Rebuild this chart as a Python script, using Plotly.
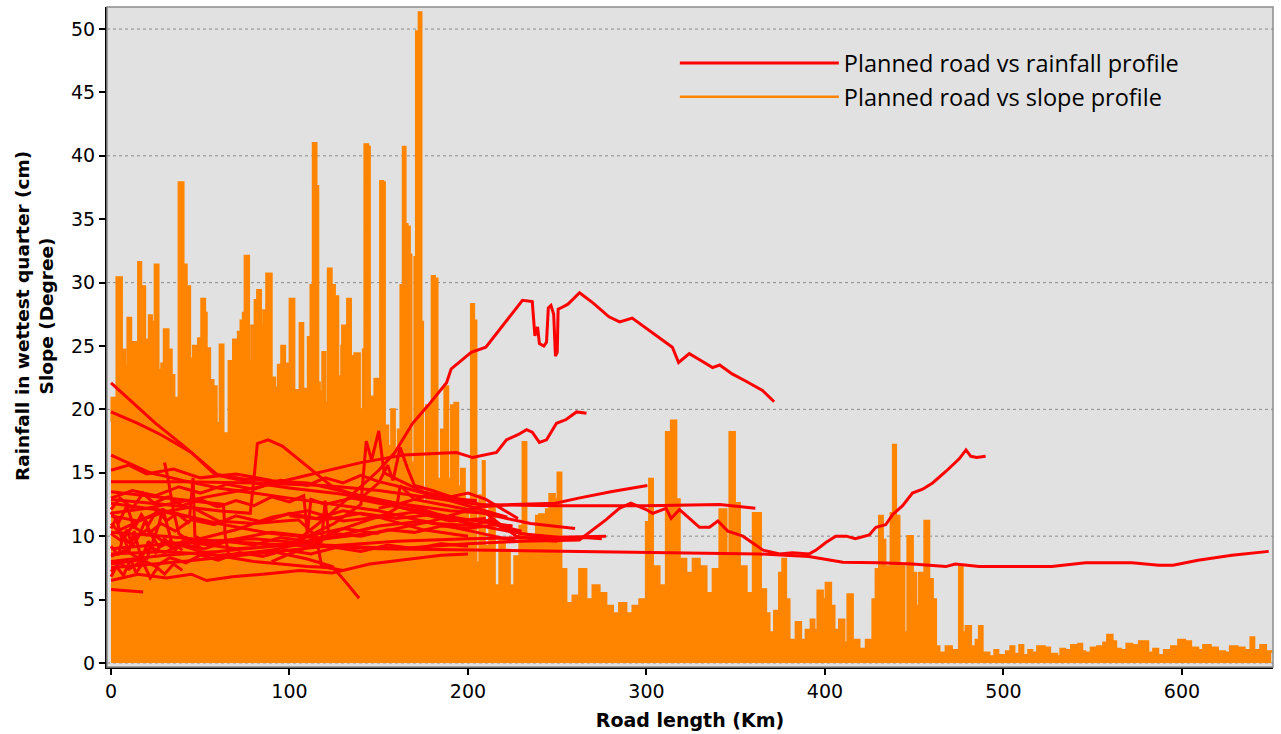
import plotly.graph_objects as go

# ---------------- slope profile (km, degree) ----------------
slope_km = [0, 0.4, 3.2, 6, 7.8, 9.3, 11.2, 14.4, 15.3, 16.8, 19, 20.5, 21.3, 22.8, 24.6, 26.5, 28.3, 29.7, 32.1, 33.9,
            35.4, 36.7, 38, 40.5, 42.3, 44.2, 46, 47.9, 48.9, 50.7, 52.6, 53.5, 55.4, 57.3, 59.1, 61, 62.9, 64.7, 66,
            68.5, 71.2, 72.7, 74, 75, 77.2, 78.7, 80.6, 82, 83.9, 85.4, 87.1, 89.9, 91.8, 93.6, 95.5, 97.4, 98.9,
            100.2, 102.6, 104.5, 105.8, 107.6,
            108.6, 110.4, 111.9, 113.2, 115, 116, 116.9, 118.5, 120, 121.6, 123.5, 125.3, 127.2, 129.1, 129.6, 131.3,
            132.4, 134.3, 136.5, 139.3, 141.2, 142.1, 144, 144.9, 147.7, 150.9, 152.4, 153.3, 155.2, 157.1, 158.9,
            160.8, 162.3, 163.6, 164.9, 166, 167.3, 168.2, 170.1, 171, 172.5, 173.8, 174.7, 176.6, 179.8, 181.3,
            182.8, 185, 186.9, 188.8, 190.6, 192.5, 194.4, 196.2, 198.1, 200, 201.8, 203.3, 204.6,
            206.5, 208.4, 209.3, 212.1, 214.9, 217.7, 220.5, 223.3, 226.1, 228.9, 230.7, 232.6, 234.4, 238.2, 240,
            243.8, 245.7, 248.5, 250.3, 252.2, 255, 258.7, 262.4, 266.2, 269.9, 273.6, 277.4, 281.1, 284.8, 288.6,
            292.3, 296.1, 299.8, 301.6, 303.5, 307.2, 311, 313.8, 316.6, 318.5, 322.2, 326, 329.7, 333.5, 337.2,
            341, 344.7, 346.6, 349.4, 352.2, 356, 359.7,
            364, 366.9, 368.8, 371.6, 374.4, 376.2, 378.1, 380, 383.7, 386.5, 389.3, 392.1, 394, 395.9, 398.7,
            400.5, 403.3, 405.2, 408, 410.8, 412.7, 415.5, 419.2, 423, 426.7, 428.5, 430.4, 432.3, 433.7, 435,
            436.9, 438.2, 439.7, 441.6, 444.4, 446.3, 449.1, 451, 452.8, 454.7, 455.8, 458.3, 460.3, 462.1, 464,
            467.7, 471, 475.2, 477, 478.9, 481.7, 484.5, 486.4, 488.2,
            492, 495, 497, 501.5, 504, 506, 509, 511, 514, 516, 519, 523, 526, 530, 532, 534.5, 538, 542, 544,
            545.7, 549, 552.6, 556, 558.2, 561, 563, 565.7, 569, 572, 576, 581, 584, 586.6, 590, 594, 598, 601.6,
            605, 609, 612, 616, 620, 624, 627, 631, 635, 638.5, 640.4, 644, 647, 650]
slope_deg = [19, 20.9, 30.4, 24.7, 23.4, 27.2, 25.3, 23.2, 31.6, 29.7, 25.5, 23.2, 27.4, 26.9, 31.4, 23.1, 23.6, 26.3,
             24.7, 22.7, 20.9, 20.1, 37.9, 31.4, 29.7, 24, 25, 20.1, 25.6, 28.7, 27.6, 24.8, 22.3, 21.8, 18.9, 25.1,
             18.1, 15.7, 23.8, 25.5, 26.1, 27, 27.6, 32.1, 23.8, 26.6, 28.6, 29.4, 26.6, 27.8, 30.7, 22.5, 21.7, 23.5,
             25, 23.6, 20.8, 28.7, 21.5, 17.4, 26.8, 19.3,
             21.6, 25.7, 29.8, 41, 37.6, 22.1, 21.4, 24.5, 20.5, 31.1, 29.8, 28.9, 22.6, 25, 26.6, 25, 28.7, 24.2,
             24.4, 20, 24.7, 40.9, 40.7, 21, 22.4, 38, 37.9, 18.7, 17.1, 20, 16.6, 18.4, 29.8, 40.7, 34.6, 34.4,
             32.2, 15.8, 32, 49.8, 51.3, 26.9, 12.6, 20.3, 30.5, 30.3, 14.5, 18.4, 21.8, 14.5, 20.3, 20.5, 13.9,
             15.3, 12.6, 10.3, 28.3, 27, 7.9,
             13.2, 15.9, 9.2, 12.2, 6.1, 9.7, 8.9, 6.1, 8.4, 10.8, 17.4, 9.7, 9.5, 11.6, 11.7, 12.1, 13.3, 12.9, 15,
             7.4, 4.7, 5.3, 7.4, 5, 6.1, 5.5, 4.5, 3.9, 4.7, 3.9, 4.5, 5, 11.1, 14.5, 7.6, 6.1, 18.2, 19.1, 12.9, 8.2,
             7.1, 8.2, 7.6, 5.5, 7.4, 12.1, 8.4, 18.2, 12.6, 7.6, 5.5, 11.8,
             5.8, 3.9, 2.4, 4.1, 7.1, 8.2, 5, 1.8, 3.2, 1.8, 2.6, 3.4, 2.6, 5.7, 5, 6.3, 4.5, 2.6, 3.4, 1.6, 5.4,
             1.8, 1.1, 1.8, 5, 7.4, 11.6, 9.7, 7.1, 7.6, 11.8, 17.2, 11.6, 7.6, 2.4, 10, 7.1, 4.5, 7.1, 2.4, 11.2,
             6.6, 5, 1.3, 0.8, 1.3, 1.0, 7.6, 2.4, 2.9, 1.3, 1.8, 2.9, 0.8,
             0.5, 1.0, 0.6, 0.9, 1.3, 0.7, 1.4, 0.6, 1.0, 0.8, 1.3, 1.2, 0.7, 0.5, 1.1, 1.0, 1.4, 1.5, 0.9, 0.8, 1.2,
             1.3, 1.6, 2.2, 1.7, 1.1, 1.0, 1.5, 1.4, 1.7, 0.8, 1.1, 0.6, 1.0, 1.3, 1.8, 1.7, 1.2, 1.0, 1.4, 1.2, 0.9,
             0.8, 1.3, 1.2, 1.0, 2.0, 1.0, 1.4, 0.9, 1.0]

# ---------------- rainfall profiles (km, cm) ----------------
road01_km = [0, 30, 60, 90, 103, 121.6, 140, 150, 159, 169, 177.6, 188, 190.6, 201.8, 210, 216, 223, 230.5, 236, 237.5,
             239, 240, 242.5, 244, 245, 246.5, 248, 249, 250, 250.5, 252, 256, 262.5, 270, 279, 285, 292, 300, 307,
             314.5, 318, 324, 330, 337, 341, 348, 356, 365, 371.5]
road01_cm = [8.0, 8.5, 8.8, 9.2, 9.5, 11.6, 13.9, 15.2, 16.6, 18.9, 20.3, 22.1, 23.2, 24.5, 24.9, 26.0, 27.3, 28.6,
             28.5, 25.8, 26.5, 25.2, 25.0, 25.3, 28.0, 28.2, 27.5, 24.2, 24.5, 27.9, 28.0, 28.3, 29.2, 28.4, 27.3,
             26.9, 27.2, 26.4, 25.7, 24.9, 23.7, 24.4, 23.9, 23.3, 23.5, 22.8, 22.2, 21.5, 20.6]
road02_km = [0, 20, 50, 80, 110, 140, 164, 180, 193.6, 202.6, 210, 216, 221.6, 228, 232.8, 236, 240, 244, 249.6,
             255, 260.8, 266.4]
road02_cm = [11.8, 12.2, 13.0, 13.8, 14.8, 15.8, 16.4, 16.5, 16.6, 16.2, 16.4, 16.6, 17.6, 18.0, 18.4, 18.2, 17.4,
             17.6, 18.9, 19.2, 19.8, 19.7]
road03_km = [0, 30, 60, 90, 120, 150, 180, 206, 225, 249, 262, 280, 300.5]
road03_cm = [12.6, 12.0, 11.0, 10.2, 9.8, 10.3, 11.2, 12.3, 12.5, 12.6, 13.0, 13.5, 14.0]
road04_km = [0, 40, 80, 120, 150, 180, 206, 250, 300, 341, 361]
road04_cm = [14.3, 14.3, 14.2, 14.0, 13.6, 13.0, 12.5, 12.4, 12.4, 12.5, 12.2]
road05_km = [0, 40, 80, 120, 160, 200, 230, 262.4, 277.4, 284.8, 291.3, 299.8, 303.5, 311, 313.8, 318.5, 329.7,
             335.3, 340, 345.6, 354, 365.3, 374.6, 381.8, 391.2, 395, 400.5, 406, 412, 417, 424.8, 428.5, 434,
             437.9, 443.5, 449, 454.7, 460.3, 467.7, 475.2, 479, 481.7, 485, 490]
road05_cm = [9.0, 9.5, 9.8, 9.3, 9.0, 9.4, 9.6, 9.7, 11.3, 12.2, 12.6, 12.1, 11.8, 12.2, 11.4, 12.1, 10.7, 10.7,
             11.2, 10.4, 10.0, 8.9, 8.6, 8.7, 8.6, 8.9, 9.5, 10.0, 10.0, 9.8, 10.1, 10.7, 10.9, 11.7, 12.4, 13.4,
             13.7, 14.2, 15.1, 16.1, 16.8, 16.3, 16.2, 16.3]
road06_km = [0, 30, 60, 100, 150, 200, 254.5, 300, 363, 391, 400.5, 410, 430.4, 449, 467.7, 473, 486.4, 503, 527,
             546, 572, 587, 595, 609, 628, 648.6]
road06_cm = [10.3, 10.0, 9.6, 9.3, 9.0, 8.9, 8.8, 8.7, 8.6, 8.4, 8.2, 7.95, 7.9, 7.8, 7.6, 7.8, 7.6, 7.6, 7.6, 7.9,
             7.9, 7.7, 7.7, 8.1, 8.5, 8.8]
road07_km = [0, 40, 80, 120, 160, 200, 243.8, 277.4]
road07_cm = [7.5, 8.0, 8.6, 9.2, 9.6, 9.8, 9.9, 10.0]
road08_km = [0, 10, 25, 40, 60, 80, 100, 130, 160, 190, 210, 227, 240, 250]
road08_cm = [22.1, 20.8, 18.9, 17.2, 14.8, 14.2, 13.8, 13.3, 12.6, 12.0, 11.8, 10.0, 9.7, 9.6]
road09_km = [0, 15, 28, 45, 58, 75, 110, 140, 170, 200, 230, 252]
road09_cm = [19.8, 18.9, 18.0, 16.6, 14.9, 14.5, 14.2, 13.2, 12.3, 11.0, 10.2, 9.9]
road10_km = [0, 22, 40, 60, 100, 150, 180, 208]
road10_cm = [16.4, 15.0, 14.4, 13.8, 13.0, 12.0, 11.0, 10.8]
road11_km = [0, 30, 60, 78, 80, 82, 88, 96, 110, 124, 143, 170, 200, 225]
road11_cm = [12.9, 12.5, 12.0, 11.8, 14.4, 17.3, 17.6, 17.1, 15.5, 13.9, 12.9, 12.0, 11.3, 10.8]
road12_km = [0, 30, 60, 90, 110, 124, 132, 139]
road12_cm = [8.6, 8.8, 8.5, 8.8, 8.2, 7.6, 6.3, 5.1]
road13_km = [0, 10, 18]
road13_cm = [5.8, 5.7, 5.6]
road14_km = [0, 15, 31, 45, 53.5, 68, 85, 106, 124, 145, 162, 185, 200]
road14_cm = [6.5, 7.0, 6.7, 7.0, 6.5, 6.8, 7.0, 7.3, 7.1, 7.8, 8.1, 8.5, 8.6]
road15_km = [0, 10, 20, 35, 50, 70, 90, 110, 130, 150, 175, 200]
road15_cm = [11.0, 9.5, 10.5, 9.0, 9.8, 10.5, 11.5, 12.0, 11.2, 11.5, 10.5, 10.0]
road16_km = [0, 20, 27, 29, 34, 55, 80, 110, 125]
road16_cm = [7.8, 8.2, 11.0, 12.2, 9.5, 8.6, 8.0, 7.6, 7.5]
road17_km = [30, 32, 35, 38, 45, 70, 100, 125, 140, 143, 146, 150, 153, 160, 175, 190, 205]
road17_cm = [15.8, 14.5, 12.0, 10.2, 9.5, 9.0, 9.3, 11.0, 12.5, 17.5, 16.0, 18.3, 15.0, 14.5, 13.5, 13.0, 12.8]
road18_km = [0, 20, 45, 63, 64, 66, 90, 120, 150, 175, 205, 227]
road18_cm = [13.5, 13.2, 12.8, 12.5, 10.0, 8.5, 8.9, 9.8, 10.8, 11.2, 10.3, 9.6]
road19_km = [0, 4, 7, 10, 13, 17, 21, 25, 30, 36, 42, 50]
road19_cm = [9.2, 8.5, 10.0, 8.8, 10.4, 8.2, 9.6, 8.7, 9.8, 8.9, 9.9, 9.1]
road20_km = [0, 3, 6, 9, 12, 16, 19, 23, 27, 33, 40]
road20_cm = [10.6, 11.4, 9.8, 10.5, 9.2, 10.1, 11.2, 10.0, 9.1, 9.6, 8.9]
road21_km = [5, 25, 45, 60, 80, 105, 115, 118, 130]
road21_cm = [10.5, 11.8, 12.3, 11.2, 11.0, 11.3, 10.0, 7.6, 7.3]
road22_km = [0, 8, 15, 22, 30, 40, 52, 65, 80, 95, 110, 125, 140, 155, 170, 185, 200, 215, 230]
road22_cm = [8.4, 8.9, 8.3, 9.1, 8.7, 9.4, 9.0, 9.6, 9.3, 9.9, 9.6, 10.2, 10.0, 10.5, 10.3, 10.8, 10.6, 10.9, 10.4]
road23_km = [0, 6, 12, 20, 28, 36, 45, 58, 70, 85, 100, 115, 130, 150, 170, 190, 210]
road23_cm = [10.2, 9.6, 10.8, 10.1, 11.0, 10.4, 11.3, 10.9, 11.6, 11.1, 11.8, 11.4, 12.0, 11.5, 11.9, 11.2, 11.4]
road24_km = [0, 5, 10, 18, 25, 33, 42, 50, 60, 72, 85, 98, 112, 126, 140, 155, 170, 185, 200]
road24_cm = [7.2, 7.9, 7.4, 8.1, 7.6, 8.3, 7.9, 8.5, 8.1, 8.7, 8.4, 8.9, 8.6, 9.1, 8.8, 9.3, 9.0, 9.4, 9.2]
road25_km = [0, 12, 25, 38, 50, 65, 80, 95, 110, 120, 130, 140, 150, 165, 180, 195, 210, 222]
road25_cm = [13.0, 13.6, 13.2, 13.9, 13.4, 14.1, 13.7, 14.4, 14.0, 14.6, 14.2, 14.8, 14.3, 13.8, 13.2, 12.6, 12.0,
             11.5]
road26_km = [0, 15, 30, 44, 46, 47, 55, 70, 90, 110, 130, 150]
road26_cm = [11.6, 11.2, 11.9, 11.5, 14.6, 10.0, 9.4, 9.8, 10.3, 10.0, 10.6, 10.2]
road27_km = [60, 70, 80, 90, 100, 108, 110, 112, 120, 135, 150, 165, 180]
road27_cm = [12.3, 12.8, 12.4, 13.1, 12.7, 13.2, 10.2, 12.9, 12.5, 13.0, 12.6, 12.2, 11.8]
road28_km = [90, 100, 110, 118, 120, 122, 130, 142, 155, 160, 162, 170, 185, 200, 215, 235, 260]
road28_cm = [8.0, 8.6, 9.1, 9.6, 12.8, 10.1, 10.6, 11.2, 11.8, 12.2, 14.0, 12.9, 12.5, 12.1, 11.6, 11.0, 10.6]
road29_km = [0, 3, 7, 11, 14, 18, 22, 26, 30, 35, 40]
road29_cm = [6.8, 7.6, 6.9, 8.2, 7.1, 7.9, 6.7, 7.5, 7.0, 7.8, 7.3]
road30_km = [0, 4, 9, 13, 17, 21, 26, 31, 37, 44]
road30_cm = [11.9, 11.0, 12.4, 10.6, 11.7, 10.9, 12.1, 11.2, 11.8, 11.0]
road31_km = [100, 120, 140, 160, 180, 195, 205, 212, 220, 230, 240, 252, 265, 275]
road31_cm = [11.6, 11.3, 11.8, 11.4, 11.7, 11.2, 10.9, 11.3, 10.6, 10.2, 10.0, 9.7, 9.9, 9.8]
road32_km = [140, 150, 155, 158, 162, 166, 170, 180, 195, 210]
road32_cm = [13.0, 14.2, 15.6, 14.4, 17.0, 15.4, 14.0, 13.6, 12.9, 12.4]
road33_km = [150, 160, 170, 180, 190, 200, 210, 220, 228]
road33_cm = [12.2, 12.5, 12.9, 13.3, 13.1, 13.4, 12.9, 12.1, 11.4]
road34_km = [0, 10, 20, 35, 50, 70, 90]
road34_cm = [15.2, 15.6, 14.9, 15.3, 14.6, 14.9, 14.4]
road35_km = [0, 5, 12, 18, 24, 32, 40, 50, 60]
road35_cm = [12.1, 13.0, 12.2, 13.4, 12.6, 13.1, 12.4, 12.9, 12.3]

roads = [(road01_km, road01_cm), (road02_km, road02_cm), (road03_km, road03_cm), (road04_km, road04_cm),
         (road05_km, road05_cm), (road06_km, road06_cm), (road07_km, road07_cm), (road08_km, road08_cm),
         (road09_km, road09_cm), (road10_km, road10_cm), (road11_km, road11_cm), (road12_km, road12_cm),
         (road13_km, road13_cm), (road14_km, road14_cm), (road15_km, road15_cm), (road16_km, road16_cm),
         (road17_km, road17_cm), (road18_km, road18_cm), (road19_km, road19_cm), (road20_km, road20_cm),
         (road21_km, road21_cm), (road22_km, road22_cm), (road23_km, road23_cm), (road24_km, road24_cm),
         (road25_km, road25_cm), (road26_km, road26_cm), (road27_km, road27_cm), (road28_km, road28_cm),
         (road29_km, road29_cm), (road30_km, road30_cm), (road31_km, road31_cm), (road32_km, road32_cm),
         (road33_km, road33_cm), (road34_km, road34_cm), (road35_km, road35_cm)]

y_ticks = [0, 5, 10, 15, 20, 25, 30, 35, 40, 45, 50]
x_ticks = [0, 100, 200, 300, 400, 500, 600]
grid_levels = [0, 10, 20, 30, 40, 50]

ORANGE = "rgb(255,133,0)"
RED = "rgb(255,0,0)"

fig = go.Figure()

# slope: filled profile (no legend) + outline (legend)
fig.add_trace(go.Scatter(x=slope_km, y=slope_deg, mode="lines", line=dict(color=ORANGE, width=1, shape="hv"),
                         fill="tozeroy", fillcolor=ORANGE, showlegend=False, hoverinfo="skip"))
fig.add_trace(go.Scatter(x=slope_km, y=slope_deg, mode="lines", line=dict(color=ORANGE, width=2.5, shape="hv"),
                         name="Planned road vs slope profile", legendrank=2))

for i, (rk, rc) in enumerate(roads):
    fig.add_trace(go.Scatter(x=rk, y=rc, mode="lines", line=dict(color=RED, width=3),
                             name="Planned road vs rainfall profile", legendgroup="rain",
                             showlegend=(i == 0), legendrank=1))

for g in grid_levels:
    fig.add_shape(type="line", xref="paper", x0=0, x1=1, yref="y", y0=g, y1=g,
                  line=dict(color="#8a8a8a", width=1, dash="dot"), layer="below")

# frame
fig.add_shape(type="rect", xref="paper", yref="paper", x0=0, x1=1, y0=0, y1=1,
              line=dict(color="#8c8c8c", width=1.5), layer="above")

# y-axis title (two lines, placed slightly above the plot centre as in the original)
fig.add_annotation(text="<b>Rainfall in wettest quarter (cm)<br>Slope (Degree)</b>", textangle=-90,
                   xref="paper", yref="paper", x=(34 - 107) / 1166, y=1 - (316 - 7) / 660,
                   xanchor="center", yanchor="middle", showarrow=False,
                   font=dict(size=18.5, family="DejaVu Sans", color="black"))

fig.update_layout(
    width=1281, height=734,
    margin=dict(l=107, r=8, t=7, b=67),
    paper_bgcolor="white",
    plot_bgcolor="#e1e1e1",
    font=dict(family="DejaVu Sans", color="black"),
    legend=dict(x=0.487, y=0.948, xanchor="left", yanchor="top", bgcolor="rgba(0,0,0,0)",
                font=dict(family="Open Sans", size=23.5, color="black"), itemwidth=159,
                tracegroupgap=0),
    xaxis=dict(range=[-2.24, 651], tickvals=x_ticks, ticks="outside", ticklen=6, tickwidth=1.5,
               tickcolor="black", showgrid=False, zeroline=False, showline=True, linecolor="black",
               linewidth=2, tickfont=dict(size=19, family="DejaVu Sans"),
               title=dict(text="<b>Road length (Km)</b>", font=dict(size=19, family="DejaVu Sans"), standoff=13)),
    yaxis=dict(range=[-0.32, 51.74], tickvals=y_ticks, ticks="outside", ticklen=6, tickwidth=1.5,
               tickcolor="black", showgrid=False, zeroline=False, showline=True, linecolor="black",
               linewidth=2, tickfont=dict(size=19, family="DejaVu Sans")),
)

fig.write_html("out.html", post_script="document.body.style.margin='0';",
               config={"displayModeBar": False})
